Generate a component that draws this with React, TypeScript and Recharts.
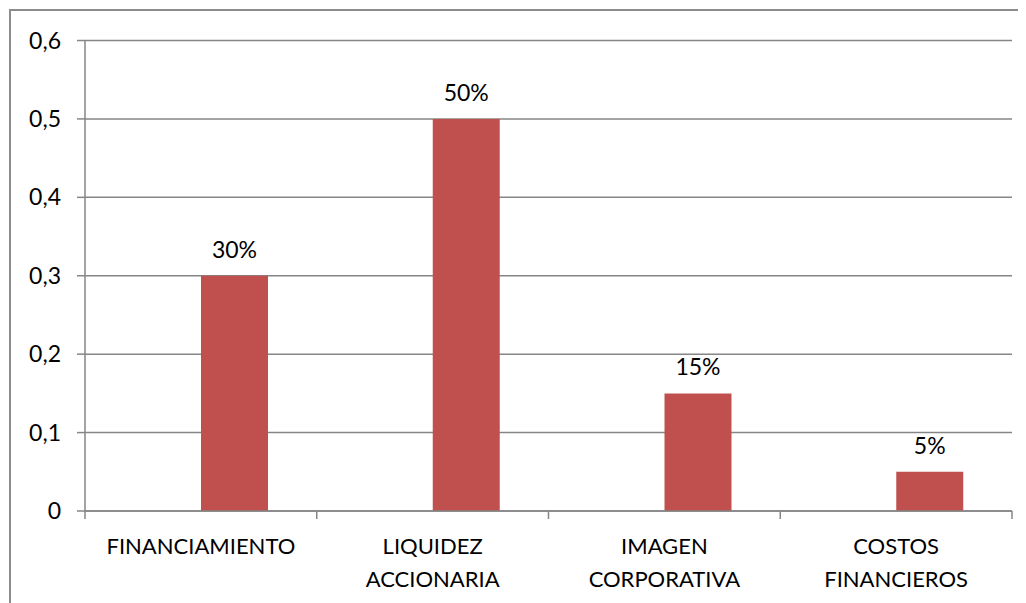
import { BarChart, Bar, XAxis, YAxis, CartesianGrid, LabelList } from "recharts";

// Factores evaluados (respuesta principal) — the first series is empty in the source chart
const categories = ["FINANCIAMIENTO", "LIQUIDEZ ACCIONARIA", "IMAGEN CORPORATIVA", "COSTOS FINANCIEROS"];
const blankSeries = [null, null, null, null];
const shareValues = [0.3, 0.5, 0.15, 0.05];
const yTicks = [0, 0.1, 0.2, 0.3, 0.4, 0.5, 0.6];
const categoryEdges = [0, 1, 2, 3, 4];

const FONT = "Lato, 'Open Sans', sans-serif";
const GRID = "#868686";
const BAR = "#C0504D";

const chartData = categories.map((name, i) => ({
  name,
  idx: i + 0.5,
  blank: blankSeries[i],
  share: shareValues[i],
}));

const fmtTick = (v: number) => (v === 0 ? "0" : v.toFixed(1).replace(".", ","));
const fmtPct = (v: number) => `${Math.round(v * 100)}%`;

// category labels: one word per line, like the original
const CategoryTick = ({ x, y, payload }: any) => {
  const words = String(payload.value).split(" ");
  return (
    <text x={x} y={y} textAnchor="middle" fill="#000" fontSize={22} fontFamily={FONT}>
      {words.map((w, i) => (
        <tspan key={i} x={x} dy={i === 0 ? 33 : 33}>
          {w}
        </tspan>
      ))}
    </text>
  );
};

export default function App() {
  return (
    <div
      style={{
        marginTop: 1,
        marginLeft: 1,
        width: 1100,
        height: 620,
        borderTop: "2px solid #8c8c8c",
        borderLeft: "2px solid #8c8c8c",
        background: "#fff",
        fontFamily: FONT,
      }}
    >
      <BarChart
        width={1010}
        height={590}
        data={chartData}
        barGap={0}
        margin={{ top: 29.5, right: 9, left: 0, bottom: 0 }}
      >
        <CartesianGrid vertical={false} xAxisId="a_edges" stroke={GRID} strokeWidth={1.5} />
        <YAxis
          width={74}
          domain={[0, 0.6]}
          ticks={yTicks}
          interval={0}
          tickFormatter={fmtTick}
          stroke={GRID}
          strokeWidth={1.5}
          tickSize={8}
          tickMargin={16}
          tick={{ fill: "#000", fontSize: 23, fontFamily: FONT }}
        />
        <XAxis
          xAxisId="a_edges"
          type="number"
          dataKey="idx"
          domain={[0, 4]}
          ticks={categoryEdges}
          interval={0}
          height={10}
          tickFormatter={() => ""}
          stroke={GRID}
          strokeWidth={1.5}
          tickSize={8}
          tickMargin={0}
        />
        <XAxis
          xAxisId="b_cats"
          dataKey="name"
          height={80}
          axisLine={false}
          tickLine={false}
          tickSize={0}
          tickMargin={0}
          interval={0}
          tick={<CategoryTick />}
        />
        <Bar xAxisId="b_cats" dataKey="blank" fill="#4F81BD" barSize={67} isAnimationActive={false} />
        <Bar xAxisId="b_cats" dataKey="share" fill={BAR} barSize={67} isAnimationActive={false}>
          <LabelList
            dataKey="share"
            position="top"
            offset={18}
            formatter={fmtPct}
            fill="#000"
            fontSize={23}
            fontFamily={FONT}
          />
        </Bar>
      </BarChart>
    </div>
  );
}
